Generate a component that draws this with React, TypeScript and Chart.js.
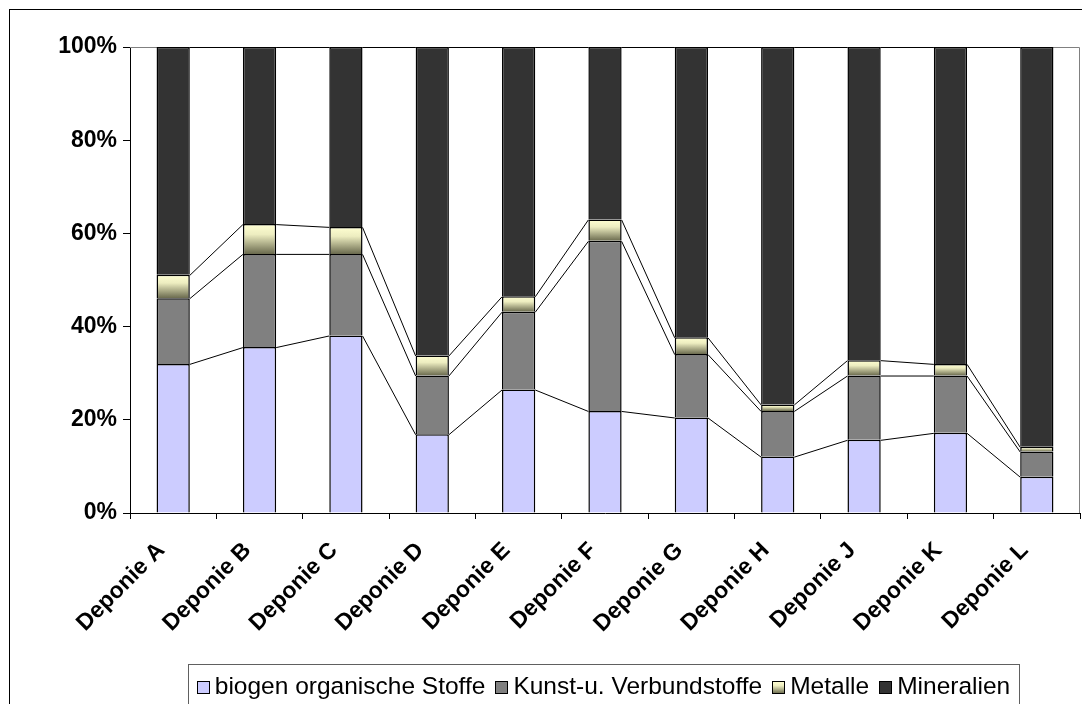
import React, { useEffect, useRef } from 'react';
import { Chart, registerables } from 'chart.js';
Chart.register(...registerables);

const categories = ['Deponie A', 'Deponie B', 'Deponie C', 'Deponie D', 'Deponie E', 'Deponie F', 'Deponie G', 'Deponie H', 'Deponie J', 'Deponie K', 'Deponie L'];
const biogen = [32.0, 35.6, 38.1, 16.9, 26.5, 21.9, 20.5, 12.1, 15.7, 17.2, 7.8];
const kunst = [14.1, 20.0, 17.5, 12.6, 16.7, 36.5, 13.6, 9.8, 13.8, 12.3, 5.4];
const metalle = [5.0, 6.4, 5.8, 4.3, 3.3, 4.6, 3.6, 1.4, 3.3, 2.5, 1.0];
const mineralien = [48.9, 38.0, 38.6, 66.2, 53.5, 37.0, 62.3, 76.7, 67.2, 68.0, 85.8];
const seriesLabels = ['biogen organische Stoffe', 'Kunst-u. Verbundstoffe', 'Metalle', 'Mineralien'];
const yTicks = [0, 20, 40, 60, 80, 100];

const W = 1100;
const H = 720;
const FONT = 'Liberation Sans, Arial, sans-serif';

function metalGradient(ctx: CanvasRenderingContext2D, y0: number, y1: number) {
  if (!isFinite(y0) || !isFinite(y1) || y0 === y1) return '#E8E8B8';
  const g = ctx.createLinearGradient(0, y0, 0, y1);
  g.addColorStop(0, '#FFFFD2');
  g.addColorStop(0.35, '#EDEDC0');
  g.addColorStop(1, '#6A6A4E');
  return g;
}

export default function App() {
  const ref = useRef<HTMLCanvasElement>(null);
  useEffect(() => {
    const canvas = ref.current!;

    const frame = {
      id: 'frame',
      beforeDatasetsDraw(chart: any) {
        const { ctx, chartArea: a } = chart;
        ctx.save();
        ctx.strokeStyle = '#808080';
        ctx.lineWidth = 1;
        ctx.beginPath();
        ctx.moveTo(a.left, a.top + 0.5);
        ctx.lineTo(a.right - 0.5, a.top + 0.5);
        ctx.lineTo(a.right - 0.5, a.bottom);
        ctx.stroke();
        ctx.restore();
      },
    };

    const seriesLines = {
      id: 'seriesLines',
      afterDatasetsDraw(chart: any) {
        const ctx = chart.ctx;
        ctx.save();
        ctx.strokeStyle = '#000';
        ctx.lineWidth = 1;
        chart.data.datasets.forEach((_ds: any, di: number) => {
          const meta = chart.getDatasetMeta(di);
          for (let i = 0; i < meta.data.length - 1; i++) {
            const a = meta.data[i] as any;
            const b = meta.data[i + 1] as any;
            ctx.beginPath();
            ctx.moveTo(a.x + a.width / 2, a.y + 0.5);
            ctx.lineTo(b.x - b.width / 2, b.y + 0.5);
            ctx.stroke();
          }
        });
        ctx.restore();
      },
    };

    const legendBox = {
      id: 'legendBox',
      afterDraw(chart: any) {
        const ctx = chart.ctx as CanvasRenderingContext2D;
        ctx.save();
        ctx.strokeStyle = '#000';
        ctx.lineWidth = 1;
        ctx.strokeRect(1.5, 1.5, W - 3, H - 3);
        const bx = 180, by = 656, bw = 831, bh = 44;
        ctx.strokeStyle = '#606060';
        ctx.strokeRect(bx + 0.5, by + 0.5, bw, bh);
        ctx.font = `24.5px ${FONT}`;
        ctx.textBaseline = 'middle';
        ctx.fillStyle = '#000';
        const sq = 12, gapT = 6, gapI = 10;
        const widths = chart.data.datasets.map((d: any) => ctx.measureText(d.label).width);
        const total = widths.reduce((s: number, w: number) => s + w, 0) + widths.length * (sq + gapT) + (widths.length - 1) * gapI;
        let x = bx + (bw - total) / 2;
        const cy = by + bh / 2 + 1;
        const fills = ['#CCCCFF', '#808080', null, '#333333'];
        chart.data.datasets.forEach((d: any, i: number) => {
          const sy = Math.round(cy - sq / 2) + 0.5;
          const sx = Math.round(x) + 0.5;
          ctx.fillStyle = fills[i] ?? metalGradient(ctx, sy, sy + sq);
          ctx.fillRect(sx, sy, sq, sq);
          ctx.strokeStyle = '#000';
          ctx.strokeRect(sx, sy, sq, sq);
          ctx.fillStyle = '#000';
          ctx.fillText(d.label, x + sq + gapT, cy);
          x += sq + gapT + widths[i] + gapI;
        });
        ctx.restore();
      },
    };

    const chart = new Chart(canvas, {
      type: 'bar',
      data: {
        labels: categories,
        datasets: [
          { label: seriesLabels[0], data: biogen, backgroundColor: '#CCCCFF' },
          { label: seriesLabels[1], data: kunst, backgroundColor: '#808080' },
          {
            label: seriesLabels[2],
            data: metalle,
            backgroundColor: (c: any) => {
              const ys = c.chart.scales?.y;
              const i = c.dataIndex;
              if (!ys || i == null) return '#E8E8B8';
              const bottom = biogen[i] + kunst[i];
              const top = bottom + metalle[i];
              return metalGradient(c.chart.ctx, ys.getPixelForValue(top), ys.getPixelForValue(bottom));
            },
          },
          { label: seriesLabels[3], data: mineralien, backgroundColor: '#333333' },
        ].map((d) => ({ ...d, borderColor: '#000', borderWidth: 1.5, barPercentage: 0.385, categoryPercentage: 1 })),
      },
      options: {
        responsive: false,
        animation: false,
        devicePixelRatio: 1,
        layout: { padding: { left: 0, top: 39, right: W - 1072, bottom: 0 } },
        plugins: { legend: { display: false }, tooltip: { enabled: false } },
        scales: {
          x: {
            stacked: true,
            afterFit: (s: any) => { s.height = H - 505; },
            grid: { display: true, drawOnChartArea: false, drawTicks: true, tickLength: 6, color: '#000', offset: true },
            border: { display: true, color: '#000', width: 1 },
            ticks: {
              color: '#000',
              minRotation: 45,
              maxRotation: 45,
              autoSkip: false,
              padding: 18,
              labelOffset: -12,
              font: { family: FONT, size: 23, weight: 'bold' },
            },
          },
          y: {
            stacked: true,
            min: 0,
            max: 100,
            afterFit: (s: any) => { s.width = 122; },
            afterBuildTicks: (s: any) => { s.ticks = yTicks.map((v) => ({ value: v })); },
            grid: { display: true, drawOnChartArea: false, drawTicks: true, tickLength: 7, color: '#000' },
            border: { display: true, color: '#000', width: 1 },
            ticks: {
              color: '#000',
              padding: 6,
              callback: (v: any) => `${v}%`,
              font: { family: FONT, size: 23, weight: 'bold' },
            },
          },
        },
      },
      plugins: [frame, seriesLines, legendBox],
    } as any);
    return () => chart.destroy();
  }, []);

  return (
    <div style={{ position: 'fixed', left: 8, top: 8, right: 0, bottom: 0, overflow: 'hidden', background: '#fff' }}>
      <canvas ref={ref} width={W} height={H} style={{ width: W, height: H, display: 'block' }} />
    </div>
  );
}
